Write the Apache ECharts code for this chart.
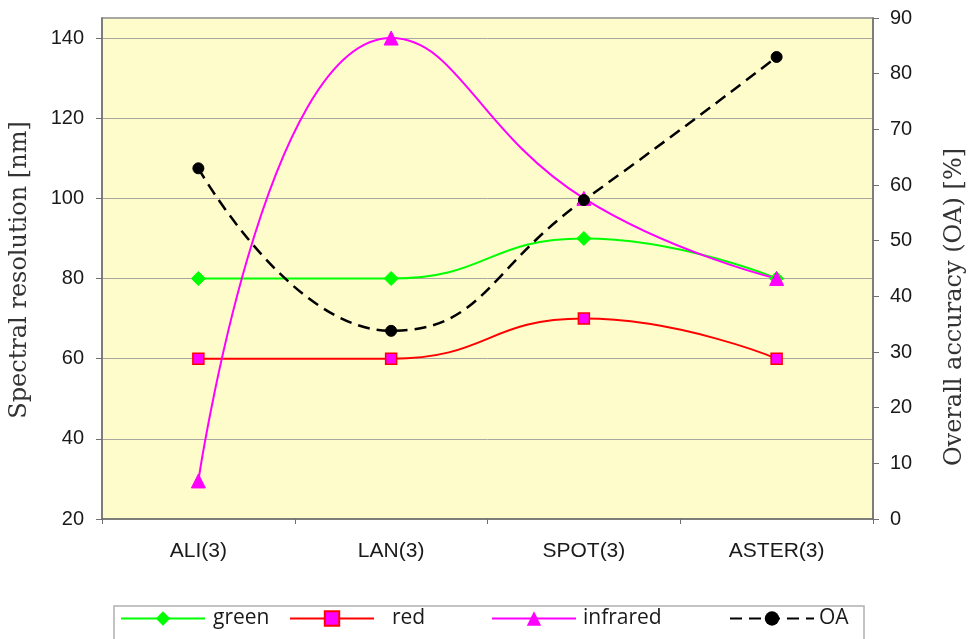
<!DOCTYPE html>
<html>
<head>
<meta charset="utf-8">
<script src="https://cdn.jsdelivr.net/npm/echarts@6/dist/echarts.min.js"></script>
<style>
html,body{margin:0;padding:0;background:#fff;}
#c{width:971px;height:639px;}
</style>
</head>
<body>
<div id="c"></div>
<script>
const categories = ['ALI(3)', 'LAN(3)', 'SPOT(3)', 'ASTER(3)'];
const green = [80, 80, 90, 80];
const red = [60, 60, 70, 60];
const infrared = [29.5, 140, 100, 80];
const oa = [63, 33.8, 57.3, 83];

const chart = echarts.init(document.getElementById('c'), null, {renderer: 'canvas'});
const tickFont = {fontFamily: '"Liberation Sans", Arial, sans-serif', fontSize: 20, color: '#1a1a1a'};
const legendText = {fontFamily: '"Open Sans", sans-serif', fontSize: 21, color: '#1a1a1a'};
function legendFor(name, left, padLeft) {
  return {
    data: [name], left: left, top: 603, orient: 'horizontal',
    itemWidth: 84, itemHeight: 18, itemGap: 0,
    textStyle: Object.assign({padding: [0, 0, 0, padLeft]}, legendText), selectedMode: false
  };
}
const titleStyle = {fontFamily: '"DejaVu Serif", serif', fontSize: 24, fill: '#333333',
                    align: 'center', verticalAlign: 'middle'};
const option = {
  backgroundColor: '#ffffff',
  animation: false,
  grid: {left: 102, top: 18, right: 98, bottom: 120, show: true,
         backgroundColor: '#FFFCCC', borderColor: '#8a8a8a', borderWidth: 1.5},
  graphic: [
    {type: 'rect', shape: {x: 114, y: 606, width: 750, height: 40},
     style: {fill: 'none', stroke: '#b0b0b0', lineWidth: 1.5}, silent: true},
    {type: 'text', x: 20, y: 270, rotation: Math.PI / 2,
     style: Object.assign({text: 'Spectral resolution [nm]'}, titleStyle), silent: true},
    {type: 'text', x: 955, y: 307, rotation: Math.PI / 2,
     style: Object.assign({text: 'Overall accuracy (OA) [%]'}, titleStyle), silent: true}
  ],
  legend: [
    legendFor('green', 115, 3),
    legendFor('red', 284, 13),
    legendFor('infrared', 486, 2),
    legendFor('OA', 724, 0)
  ],
  xAxis: {
    type: 'category', data: categories, boundaryGap: true,
    axisLine: {lineStyle: {color: '#6f6f6f', width: 1.5}},
    axisTick: {show: true, length: 5, lineStyle: {color: '#6f6f6f'}},
    axisLabel: Object.assign({margin: 22}, tickFont, {fontSize: 21})
  },
  yAxis: [{
    type: 'value', min: 20, max: 145, interval: 20, position: 'left',
    axisLine: {show: true, lineStyle: {color: '#6f6f6f', width: 1.5}},
    axisTick: {show: true, length: 6, lineStyle: {color: '#6f6f6f'}},
    axisLabel: Object.assign({margin: 18, showMaxLabel: false}, tickFont),
    splitLine: {show: true, lineStyle: {color: '#a8a8a0', width: 1}}
  }, {
    type: 'value', min: 0, max: 90, interval: 10, position: 'right',
    axisLine: {show: true, lineStyle: {color: '#6f6f6f', width: 1.5}},
    axisTick: {show: true, length: 6, lineStyle: {color: '#6f6f6f'}},
    axisLabel: Object.assign({margin: 17}, tickFont),
    splitLine: {show: false}
  }],
  series: [{
    name: 'green', type: 'line', yAxisIndex: 0, data: green, smooth: 0.5,
    symbol: 'diamond', symbolSize: 14,
    lineStyle: {color: '#00FF00', width: 2},
    itemStyle: {color: '#00FF00', borderColor: '#00FF00'}
  }, {
    name: 'red', type: 'line', yAxisIndex: 0, data: red, smooth: 0.5,
    symbol: 'rect', symbolSize: 11,
    lineStyle: {color: '#FF0000', width: 2},
    itemStyle: {color: '#FF00FF', borderColor: '#FF0000', borderWidth: 1.5}
  }, {
    name: 'infrared', type: 'line', yAxisIndex: 0, data: infrared, smooth: 0.5,
    symbol: 'triangle', symbolSize: 14,
    lineStyle: {color: '#FF00FF', width: 2},
    itemStyle: {color: '#FF00FF', borderColor: '#FF00FF'}
  }, {
    name: 'OA', type: 'line', yAxisIndex: 1, data: oa, smooth: 0.5,
    symbol: 'circle', symbolSize: 11,
    lineStyle: {color: '#000000', width: 2.5, type: [12, 7]},
    itemStyle: {color: '#000000', borderColor: '#000000'}
  }]
};
chart.setOption(option);
</script>
</body>
</html>
